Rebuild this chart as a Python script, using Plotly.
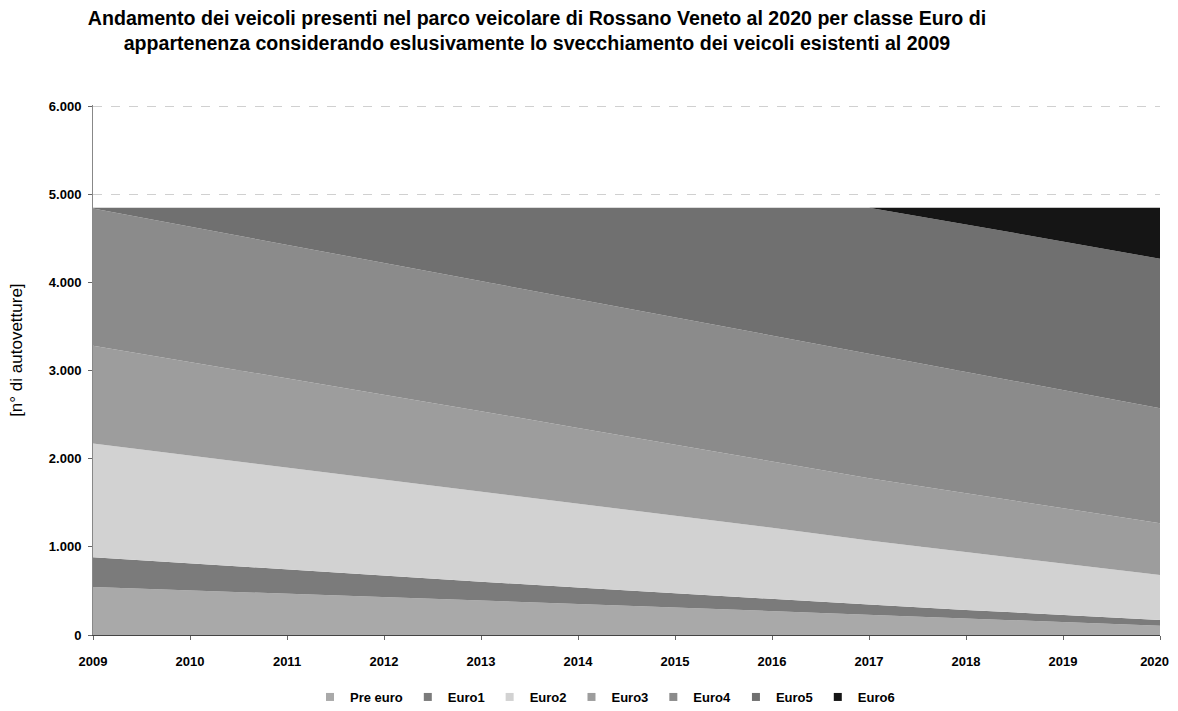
import plotly.graph_objects as go

# anni
years = [2009, 2010, 2011, 2012, 2013, 2014, 2015, 2016, 2017, 2018, 2019, 2020]

# n. autovetture per classe Euro
pre_euro = [545, 508, 470, 432, 393, 353, 312, 270, 226, 184, 145, 105]
euro1 = [338, 304, 272, 241, 212, 185, 160, 137, 119, 101, 82, 65]
euro2 = [1291, 1226, 1160, 1092, 1023, 953, 882, 810, 727, 655, 583, 510]
euro3 = [1110, 1062, 1013, 963, 912, 859, 806, 751, 708, 670, 630, 588]
euro4 = [1556, 1534, 1513, 1494, 1476, 1460, 1444, 1430, 1412, 1376, 1340, 1306]
euro5 = [10, 216, 422, 628, 834, 1040, 1246, 1452, 1658, 1674, 1685, 1696]
euro6 = [0, 0, 0, 0, 0, 0, 0, 0, 0, 190, 385, 580]

series_names = ["Pre euro", "Euro1", "Euro2", "Euro3", "Euro4", "Euro5", "Euro6"]
series_values = [pre_euro, euro1, euro2, euro3, euro4, euro5, euro6]
colors = ["#a9a9a9", "#7b7b7b", "#d2d2d2", "#9d9d9d", "#8b8b8b", "#707070", "#151515"]

FONT = "Liberation Sans, Arial, sans-serif"
W, H = 1170, 703  # la pagina aggiunge 8px di margine

# etichette anni: l'ultima spostata un po' a sinistra per non essere tagliata
year_labels = [str(y) for y in years]
year_labels[-1] = year_labels[-1] + "\u00a0\u00a0\u00a0"

fig = go.Figure()
for name, vals, col in zip(series_names, series_values, colors):
    fig.add_scatter(x=years, y=vals, name=name, stackgroup="one",
                    mode="lines", line=dict(width=0, color=col),
                    fillcolor=col, showlegend=False)
# voci di legenda con quadratini come nell'originale
for name, col in zip(series_names, colors):
    fig.add_scatter(x=[None], y=[None], name=name, mode="markers",
                    marker=dict(symbol="square", size=8, color=col))

fig.update_layout(
    width=W, height=H,
    paper_bgcolor="white", plot_bgcolor="white",
    separators=",.",
    font=dict(family=FONT, color="black"),
    title=dict(
        text="<b>Andamento dei veicoli presenti nel parco veicolare di Rossano Veneto al 2020 per classe Euro di<br>"
             "appartenenza considerando eslusivamente lo svecchiamento dei veicoli esistenti al 2009</b>",
        x=529 / W, xref="container", xanchor="center",
        y=1 - 17 / H, yref="container", yanchor="top",
        font=dict(size=19.6),
    ),
    margin=dict(l=85, r=18, t=97, b=76),
    showlegend=True,
    legend=dict(orientation="h", x=597 / W, xref="container", xanchor="center",
                y=14 / H, yref="container", yanchor="middle",
                font=dict(size=13, weight="bold"), traceorder="normal",
                itemwidth=30, tracegroupgap=0),
    annotations=[dict(text="[n° di autovetture]", x=(9 - 85) / 1067, xref="paper", xanchor="center",
                      y=0.538, yref="paper", yanchor="middle", showarrow=False, textangle=-90,
                      font=dict(size=17))],
)

fig.update_xaxes(range=[2009, 2020], tickmode="array", tickvals=years, ticktext=year_labels,
                 automargin=False,
                 showline=True, linecolor="#444", linewidth=1,
                 ticks="outside", ticklen=4, tickcolor="#666",
                 ticklabelstandoff=10, ticklabeloverflow="allow",
                 showgrid=False, tickfont=dict(size=13, family=FONT, weight="bold"))
fig.update_yaxes(range=[0, 6015], dtick=1000, tick0=0, tickformat=",d", automargin=False,
                 showline=True, linecolor="#888", linewidth=1,
                 ticks="outside", ticklen=4, tickcolor="#666",
                 ticklabelstandoff=4,
                 showgrid=True, gridcolor="#d0d0d0", griddash="dash", gridwidth=1,
                 zeroline=False,
                 tickfont=dict(size=13, family=FONT, weight="bold"))

fig.write_html("out.html")
